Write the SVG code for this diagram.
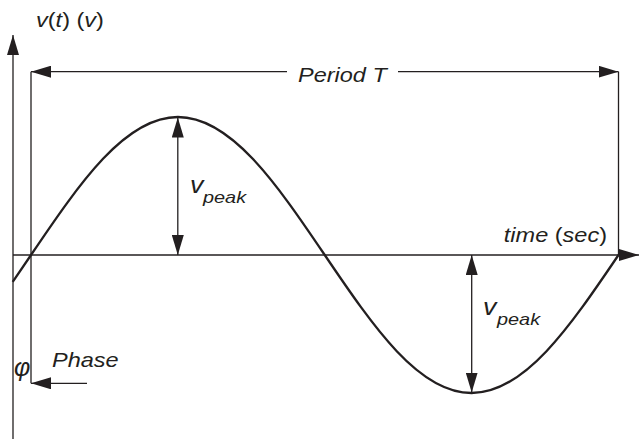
<svg xmlns="http://www.w3.org/2000/svg" width="639" height="439" viewBox="0 0 639 439">
<style>
.ln{stroke:#231f20;stroke-width:1.3;fill:none}
.wave{stroke:#231f20;stroke-width:2.3;fill:none;stroke-linejoin:round}
.t{font-family:"Liberation Sans",Arial,sans-serif;fill:#231f20}
.i{font-style:italic}
</style>
<defs>
<marker id="ah" viewBox="0 0 20 12" refX="20" refY="6" markerWidth="20" markerHeight="12" markerUnits="userSpaceOnUse" orient="auto-start-reverse">
<path d="M0,0 L20,6 L0,12 z" fill="#231f20"/>
</marker>
</defs>
<rect width="639" height="439" fill="#ffffff"/>
<g id="axes">
<line class="ln" x1="13" y1="439" x2="13" y2="35" marker-end="url(#ah)"/>
<line class="ln" x1="13" y1="255" x2="639" y2="255" marker-end="url(#ah)"/>
</g>
<g id="connectors">
<line class="ln" x1="31" y1="383.3" x2="31" y2="71.7"/>
<line class="ln" x1="618.5" y1="71.7" x2="618.5" y2="255"/>
<line class="ln" x1="287" y1="71.7" x2="31" y2="71.7" marker-end="url(#ah)"/>
<line class="ln" x1="398" y1="71.7" x2="618.5" y2="71.7" marker-end="url(#ah)"/>
<line class="ln" x1="177.8" y1="117.5" x2="177.8" y2="255" marker-start="url(#ah)" marker-end="url(#ah)"/>
<line class="ln" x1="471.7" y1="255" x2="471.7" y2="392.5" marker-start="url(#ah)" marker-end="url(#ah)"/>
<line class="ln" x1="87" y1="383.3" x2="31" y2="383.3" marker-end="url(#ah)"/>
</g>
<g id="wave">
<path class="wave" d="M12.7,281.8 L31,255 C80.1,182.5 125,117 177.9,117 C230.75,117 275.65,182.5 324.75,255 C373.85,327.5 418.75,393 471.6,393 C524.5,393 569.4,327.5 618.5,255"/>
</g>
<g id="labels">
<text class="t" font-size="21" transform="translate(36 27) scale(1.12 1)"><tspan class="i">v</tspan>(<tspan class="i">t</tspan>) (<tspan class="i">v</tspan>)</text>
<text class="t i" font-size="21" transform="translate(298 82) scale(1.12 1)">Period T</text>
<text class="t" font-size="21" text-anchor="end" transform="translate(607 242) scale(1.12 1)"><tspan class="i">time</tspan> (<tspan class="i">sec</tspan>)</text>
<text class="t i" font-size="23" transform="translate(190 193) scale(1.17 1)">v</text>
<text class="t i" font-size="17" transform="translate(203 203) scale(1.17 1)">peak</text>
<text class="t i" font-size="23" transform="translate(483 315) scale(1.17 1)">v</text>
<text class="t i" font-size="17" transform="translate(497 325) scale(1.17 1)">peak</text>
<text class="t i" font-size="21" transform="translate(52 367) scale(1.12 1)">Phase</text>
<text class="t i" font-size="25" transform="translate(14 376)">φ</text>
</g>
</svg>
